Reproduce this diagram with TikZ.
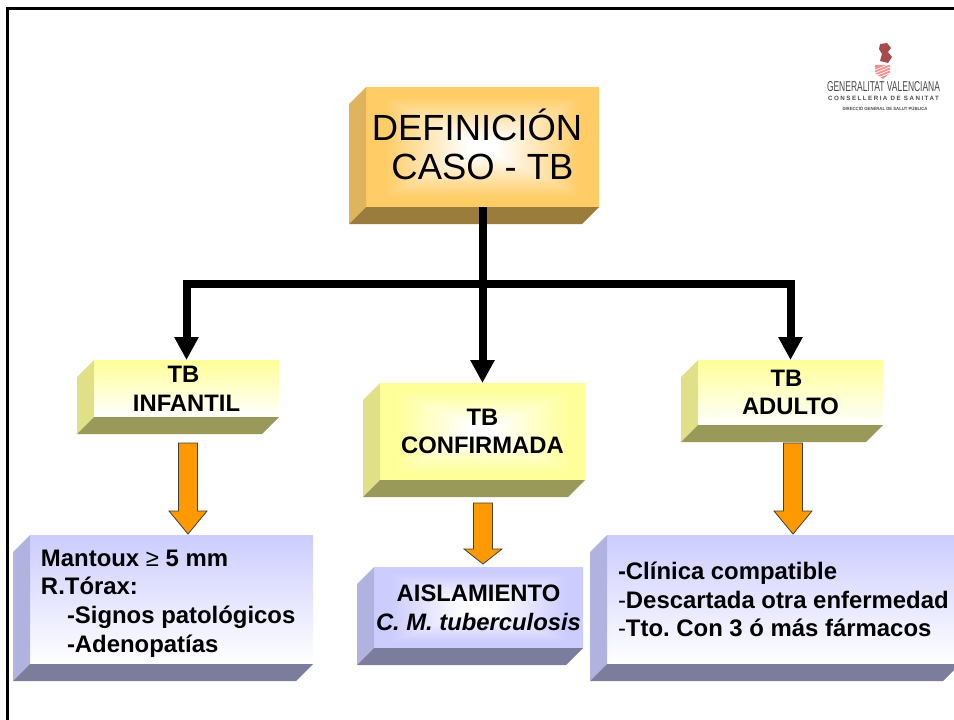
\documentclass[tikz,border=0pt]{standalone}
\usepackage{fontspec}
\usepackage{graphicx}
\setmainfont{Liberation Sans}
\newfontfamily\logofont[LetterSpace=24]{Liberation Sans}
\usepackage{tikz}
\usetikzlibrary{arrows.meta,calc}
\definecolor{gold}{RGB}{255,204,102}
\definecolor{goldleft}{RGB}{224,180,92}
\definecolor{goldlow}{RGB}{154,124,61}
\definecolor{lemon}{RGB}{255,255,153}
\definecolor{lemonleft}{RGB}{224,224,136}
\definecolor{lemonlow}{RGB}{153,153,90}
\definecolor{lilac}{RGB}{204,204,255}
\definecolor{lilacleft}{RGB}{178,178,224}
\definecolor{lilaclow}{RGB}{124,124,156}
\definecolor{arroworange}{RGB}{255,153,0}
\newcommand{\declareglow}[4]{
  \pgfdeclarefunctionalshading{#1}{\pgfpoint{0bp}{0bp}}{\pgfpoint{100bp}{100bp}}{}{
    50 sub abs exch 50 sub abs 2 copy lt {exch} if pop 25 div
    0.12 sub 0.72 div dup 0 lt {pop 0} if dup 1 gt {pop 1} if
    dup 1 #2 sub mul 1 exch sub exch
    dup 1 #3 sub mul 1 exch sub exch
    1 #4 sub mul 1 exch sub
  }
}
\declareglow{goldglow}{1}{0.8}{0.4}
\declareglow{lemonglow}{1}{1}{0.6}
\declareglow{lilacglow}{0.8}{0.8}{1}
\newcommand{\bevel}[3]{
  \fill[#2] (#1.north west) -- ++(-17,17) -- ([xshift=-17pt,yshift=-17pt]#1.south west) -- (#1.south west) -- cycle;
  \fill[#3] (#1.south west) -- ([xshift=-17pt,yshift=-17pt]#1.south west) -- ([xshift=-17pt,yshift=-17pt]#1.south east) -- (#1.south east) -- cycle;
}
\frenchspacing
\begin{document}
\begin{tikzpicture}[
    x=1pt, y=-1pt,
    face/.style={rectangle, inner sep=0pt, outer sep=0pt, align=center, font=\fontsize{23.8}{28.8}\selectfont\bfseries},
    listface/.style={face, align=flush left, inner xsep=11pt, font=\fontsize{23.9}{28.8}\selectfont\bfseries},
    line/.style={draw, black, line width=8pt, -{Triangle[width=23pt,length=23pt]}},
    blockarrow/.style={fill=arroworange, draw=black!75, line width=0.8pt,
        to path={let \p1=(\tikztostart), \p2=(\tikztotarget) in
            (\x1-9.5pt,\y1) -- (\x1-9.5pt,\y2+#1pt) -- (\x1-19pt,\y2+#1pt) -- (\x2,\y2)
            -- (\x1+19pt,\y2+#1pt) -- (\x1+9.5pt,\y2+#1pt) -- (\x1+9.5pt,\y1) -- cycle}},
    logotext/.style={inner sep=0pt, text=black!70}
]

\path[use as bounding box, clip] (0,0) rectangle (954,720);
\fill[white] (0,0) rectangle (954,720);
\draw[black, line width=2.8pt] (7.3,720) -- (7.3,8.5) -- (954,8.5);

\node [face, minimum width=233pt, minimum height=120pt, shade, shading=goldglow,
       font=\fontsize{36.4}{39}\selectfont] (definicion) at (482.5,147) {DEFINICIÓN\hspace*{11pt}\\CASO - TB\rule[-6pt]{0pt}{6pt}};
\bevel{definicion}{goldleft}{goldlow}

\node [face, minimum width=185pt, minimum height=57pt, top color=lemon, bottom color=white] (infantil) at (186.5,388.5) {TB\hspace*{6pt}\\INFANTIL};
\bevel{infantil}{lemonleft}{lemonlow}
\node [face, minimum width=205pt, minimum height=97pt, shade, shading=lemonglow] (confirmada) at (482.5,431.5) {TB\\CONFIRMADA};
\bevel{confirmada}{lemonleft}{lemonlow}
\node [face, minimum width=185pt, minimum height=65pt, top color=lemon, bottom color=white] (adulto) at (790.5,392.5) {TB\hspace*{8pt}\\ADULTO};
\bevel{adulto}{lemonleft}{lemonlow}

\node [listface, minimum width=283pt, minimum height=129pt, text width=261pt, top color=lilac, bottom color=white] (pruebas) at (171.5,599.5) {\rule{0pt}{24.5pt}Mantoux {\mdseries ≥} 5 mm\\R.Tórax:\\\hspace*{26pt}-Signos patológicos\\\hspace*{26pt}-Adenopatías};
\bevel{pruebas}{lilacleft}{lilaclow}
\node [face, minimum width=209pt, minimum height=81pt, shade, shading=lilacglow] (aislamiento) at (478.5,607.5) {AISLAMIENTO\\\textit{C. M. tuberculosis}};
\bevel{aislamiento}{lilacleft}{lilaclow}
\node [listface, minimum width=353pt, minimum height=129pt, text width=331pt, top color=lilac, bottom color=white] (clinica) at (783.5,599.5) {-Clínica compatible\\\mbox{{\mdseries-}Descartada otra enfermedad}\\{\mdseries-}Tto. Con 3 ó más fármacos};
\bevel{clinica}{lilacleft}{lilaclow}

\coordinate (branch) at (definicion.south |- 0,284);
\path [line] (definicion.south) -- (confirmada.north);
\path [line] (branch) -| (infantil.north);
\path [line] (branch) -| (adulto.north);

\coordinate (infantiltail) at (188,443);
\coordinate (infantiltip) at (188,534);
\coordinate (confirmadatail) at (483,503);
\coordinate (confirmadatip) at (483,564);
\coordinate (adultotail) at (793,443);
\coordinate (adultotip) at (793,534);
\draw [blockarrow=23] (infantiltail) to (infantiltip);
\draw [blockarrow=15] (confirmadatail) to (confirmadatip);
\draw [blockarrow=23] (adultotail) to (adultotip);

\fill[red!50!black!70] (880,44) -- (887,43) -- (891,48) -- (888,52) -- (892,57) -- (888,63) -- (880,61) -- (882,54) -- (879,49) -- cycle;
\fill[red!45!white] (875,65) -- (890,65) -- (890,73) -- (883,79) -- (875,73) -- cycle;
\foreach \stripe in {67,70,73,76}
  \draw[white, line width=0.8pt] (875,\stripe+3) -- (890,\stripe-3);
\node [logotext] (logoname) at (883.5,87) {\resizebox{113pt}{10pt}{GENERALITAT VALENCIANA}};
\node [logotext] (logodept) at (883.5,98) {\logofont\fontsize{6.2}{7}\selectfont\bfseries CONSELLERIA DE SANITAT};
\node [logotext] (logodir) at (885,109) {\resizebox{85pt}{4pt}{\bfseries DIRECCIÓ GENERAL DE SALUT PÚBLICA}};

\end{tikzpicture}
\end{document}
